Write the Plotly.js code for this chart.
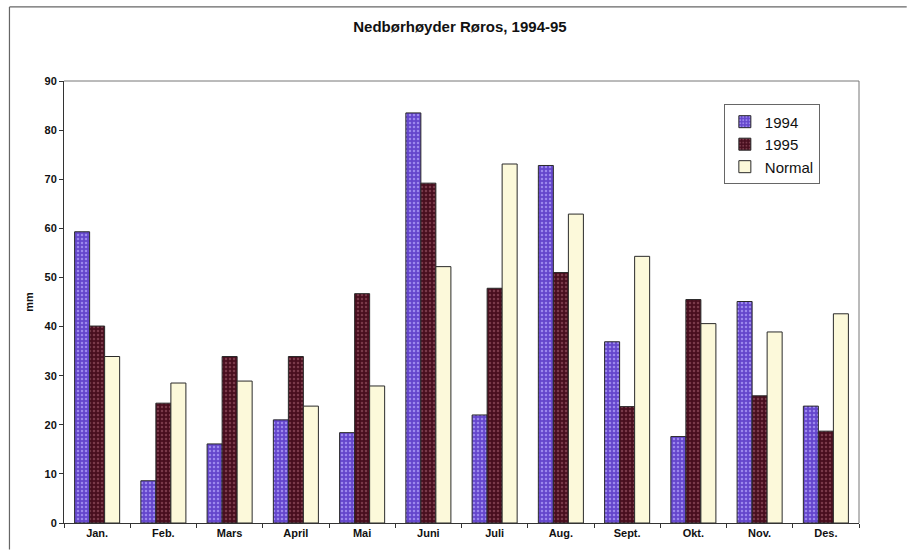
<!DOCTYPE html>
<html>
<head>
<meta charset="utf-8">
<script src="https://cdn.plot.ly/plotly-3.0.1.min.js"></script>
<style>
html,body{margin:0;padding:0;background:#fff;}
#chart{width:909px;height:555px;}
</style>
</head>
<body>
<div id="chart"></div>
<script>
const months = ["Jan.", "Feb.", "Mars", "April", "Mai", "Juni", "Juli", "Aug.", "Sept.", "Okt.", "Nov.", "Des."];
const y1994 = [59.3, 8.6, 16.1, 21.0, 18.4, 83.5, 22.0, 72.8, 36.9, 17.6, 45.1, 23.8];
const y1995 = [40.1, 24.4, 33.9, 33.9, 46.7, 69.2, 47.8, 51.0, 23.7, 45.5, 25.9, 18.7];
const normal = [33.9, 28.5, 28.9, 23.8, 27.9, 52.2, 73.1, 62.9, 54.3, 40.6, 38.9, 42.6];
const seriesNames = ["1994", "1995", "Normal"];
const yTicks = [0, 10, 20, 30, 40, 50, 60, 70, 80, 90];

const outline = {color: "#2a2a2a", width: 1};
const traces = [
  {type: "bar", name: seriesNames[0], x: months, y: y1994,
   marker: {color: "#6a4cd0", line: outline,
            pattern: {shape: ".", fgcolor: "#9c88ee", bgcolor: "#6446cc", size: 4, solidity: 0.3}}},
  {type: "bar", name: seriesNames[1], x: months, y: y1995,
   marker: {color: "#4a1020", line: outline,
            pattern: {shape: ".", fgcolor: "#7a3a4a", bgcolor: "#480e1e", size: 4, solidity: 0.3}}},
  {type: "bar", name: seriesNames[2], x: months, y: normal,
   marker: {color: "#fcf9da", line: outline}}
];

const layout = {
  width: 909, height: 555,
  margin: {l: 64, r: 50, t: 81, b: 32},
  paper_bgcolor: "#ffffff", plot_bgcolor: "#ffffff",
  font: {family: "Liberation Sans, Arial, sans-serif", color: "#111"},
  title: {text: "<b>Nedbørhøyder Røros, 1994-95</b>", font: {size: 15, color: "#111"},
          x: 0.506, xanchor: "center", y: 0.951, yanchor: "middle"},
  barmode: "group", bargap: 0.32, bargroupgap: 0,
  showlegend: true,
  legend: {x: 0.83, y: 0.947, xanchor: "left", yanchor: "top",
           bordercolor: "#666", borderwidth: 1, bgcolor: "#fff", itemwidth: 30,
           font: {size: 15, color: "#111"}},
  xaxis: {type: "category", tickson: "boundaries", ticks: "outside", ticklen: 4,
          tickcolor: "#333", showline: true, linecolor: "#333", linewidth: 1,
          showgrid: false, tickfont: {size: 11, color: "#111"}},
  yaxis: {range: [0, 90], tickvals: yTicks, ticktext: yTicks.map(v => "<b>" + v + "</b>"),
          ticks: "outside", ticklen: 4, tickcolor: "#333", showline: true, linecolor: "#333",
          linewidth: 1, showgrid: false, zeroline: false, tickfont: {size: 11, color: "#111"},
          title: {text: "<b>mm</b>", font: {size: 11, color: "#111"}, standoff: 8}},
  shapes: [
    {type: "line", xref: "paper", yref: "paper", x0: 0, x1: 1, y0: 1, y1: 1, line: {color: "#777", width: 1}},
    {type: "line", xref: "paper", yref: "paper", x0: 1, x1: 1, y0: 0, y1: 1, line: {color: "#777", width: 1}},
    {type: "line", xref: "paper", yref: "paper", x0: -0.0686, x1: 1.06, y0: 1.1676, y1: 1.1676, line: {color: "#666", width: 1.2}},
    {type: "line", xref: "paper", yref: "paper", x0: -0.0686, x1: -0.0686, y0: 1.1676, y1: -0.06, line: {color: "#666", width: 1.2}}
  ]
};
layout.xaxis.tickvals = months;
layout.xaxis.ticktext = months.map(m => "<b>" + m + "</b>");

Plotly.newPlot("chart", traces, layout, {displayModeBar: false, staticPlot: true});
</script>
</body>
</html>
